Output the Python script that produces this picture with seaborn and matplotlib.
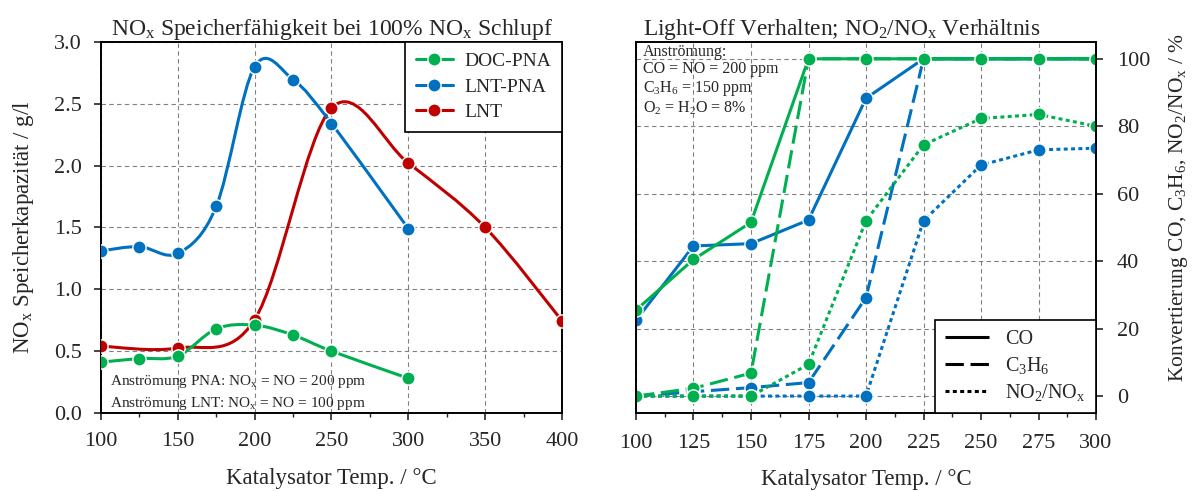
import numpy as np
import pandas as pd
import seaborn as sns
import matplotlib.pyplot as plt
from matplotlib.path import Path
from matplotlib.patches import PathPatch
from matplotlib.lines import Line2D
from matplotlib.ticker import MultipleLocator

# --- left panel: NOx storage capacity (g/l) ---
temp_doc = [100, 125, 150, 175, 200, 225, 250, 300]
cap_doc = [0.41, 0.44, 0.46, 0.68, 0.71, 0.63, 0.50, 0.28]
temp_lntpna = [100, 125, 150, 175, 200, 225, 250, 300]
cap_lntpna = [1.31, 1.345, 1.29, 1.67, 2.80, 2.695, 2.34, 1.49]
temp_lnt = [100, 150, 200, 250, 300, 350, 400]
cap_lnt = [0.54, 0.525, 0.755, 2.465, 2.02, 1.50, 0.745]

# --- right panel: light-off conversion (%) ---
temp_lo = [100, 125, 150, 175, 200, 225, 250, 275, 300]
doc_co = [25.5, 40.5, 51.5, 100, 100, 100, 100, 100, 100]
doc_c3h6 = [0, 2.3, 6.8, 100, 100, 100, 100, 100, 100]
doc_no2 = [0, 0, 0, 9.4, 52, 74.5, 82.3, 83.5, 80]
lnt_co = [22.5, 44.5, 45.2, 52.2, 88.3, 100, 100, 100, 100]
lnt_c3h6 = [0, 1.3, 2.5, 4.0, 29.2, 100, 100, 100, 100]
lnt_no2 = [0, 0, 0, 0, 0, 52, 68.5, 73, 73.5]

green = "#00B050"
blue = "#0070C0"
red = "#C00000"

sns.set_style("ticks")
plt.rcParams["font.family"] = ["Liberation Serif", "DejaVu Serif"]
plt.rcParams["mathtext.fontset"] = "custom"
plt.rcParams["mathtext.rm"] = "Liberation Serif"
plt.rcParams["mathtext.it"] = "Liberation Serif:italic"
plt.rcParams["axes.linewidth"] = 1.4

fig = plt.figure(figsize=(11.95, 4.91), dpi=100)
ax1 = fig.add_axes([0.0845, 0.159, 0.3858, 0.7556])
ax2 = fig.add_axes([0.5322, 0.159, 0.3850, 0.7556])


def smooth_path(x, y):
    # smoothed line through the points (Catmull-Rom as cubic Bezier)
    p = np.column_stack([x, y]).astype(float)
    ext = np.vstack([p[0], p, p[-1]])
    verts = [p[0]]
    codes = [Path.MOVETO]
    for i in range(len(p) - 1):
        p0, p1, p2, p3 = ext[i], ext[i + 1], ext[i + 2], ext[i + 3]
        verts += [p1 + (p2 - p0) / 6, p2 - (p3 - p1) / 6, p2]
        codes += [Path.CURVE4] * 3
    return Path(verts, codes)


ms = 9.5
left_series = [
    ("LNT", temp_lnt, cap_lnt, red),
    ("LNT-PNA", temp_lntpna, cap_lntpna, blue),
    ("DOC-PNA", temp_doc, cap_doc, green),
]
for name, xs, ys, col in left_series:
    ax1.add_patch(PathPatch(smooth_path(xs, ys), fill=False, edgecolor=col,
                            lw=2.2, zorder=3, capstyle="round"))
for name, xs, ys, col in left_series:
    sns.scatterplot(x=xs, y=ys, ax=ax1, color=col, s=ms ** 2, edgecolor="white",
                    linewidth=1, zorder=4, legend=False)

ax1.set_xlim(100, 400)
ax1.set_ylim(0, 3)
ax1.xaxis.set_major_locator(MultipleLocator(50))
ax1.xaxis.set_minor_locator(MultipleLocator(25))
ax1.yaxis.set_major_locator(MultipleLocator(0.5))
ax1.yaxis.set_major_formatter(plt.FormatStrFormatter("%.1f"))
ax1.grid(True, which="major", ls=(0, (4, 3)), color="#808080", lw=0.8)
ax1.tick_params(which="major", direction="out", length=5, width=1.2, labelsize=16, pad=9)
ax1.tick_params(which="minor", direction="out", length=3, width=1.0)
ax1.set_xlabel("Katalysator Temp. / °C", fontsize=16.5, labelpad=12)
ax1.set_ylabel(r"NO$_\mathrm{x}$ Speicherkapazität / g/l", fontsize=16.5, labelpad=13)
ax1.set_title(r"NO$_\mathrm{x}$ Speicherfähigkeit bei 100% NO$_\mathrm{x}$ Schlupf",
              fontsize=17, pad=4)
for s in ax1.spines.values():
    s.set_color("black")

handles = [Line2D([], [], color=c, lw=2.2, marker="o", markersize=ms,
                  markeredgecolor="white", markeredgewidth=1)
           for c in (green, blue, red)]
leg = ax1.legend(handles, ["DOC-PNA", "LNT-PNA", "LNT"], loc="upper right",
                 fontsize=14, frameon=True, fancybox=False, framealpha=1,
                 edgecolor="black", borderaxespad=0, handlelength=1.9,
                 handletextpad=0.6, borderpad=0.55, labelspacing=0.4)
leg.get_frame().set_linewidth(1.2)
ax1.text(0.02, 0.075, r"Anströmung PNA: NO$_\mathrm{x}$ = NO = 200 ppm",
         transform=ax1.transAxes, fontsize=11)
ax1.text(0.02, 0.015, r"Anströmung LNT: NO$_\mathrm{x}$ = NO = 100 ppm",
         transform=ax1.transAxes, fontsize=11)

# right panel in long form
rows = []
for cat, series in [("LNT-PNA", [("CO", lnt_co), ("C3H6", lnt_c3h6), ("NO2", lnt_no2)]),
                    ("DOC-PNA", [("CO", doc_co), ("C3H6", doc_c3h6), ("NO2", doc_no2)])]:
    for spec, vals in series:
        for t, v in zip(temp_lo, vals):
            rows.append({"Kat": cat, "Spezies": spec, "T": t, "Umsatz": v})
df = pd.DataFrame(rows)

dash_map = {"CO": (1, 0), "C3H6": (6, 2.2), "NO2": (1.3, 1.1)}
for cat, col in [("LNT-PNA", blue), ("DOC-PNA", green)]:
    for spec in ["CO", "C3H6", "NO2"]:
        sub = df[(df.Kat == cat) & (df.Spezies == spec)]
        sns.lineplot(data=sub, x="T", y="Umsatz", ax=ax2, color=col, lw=2.2,
                     marker="o", markersize=ms, markeredgecolor="white",
                     markeredgewidth=1, dashes=dash_map[spec], legend=False)

ax2.set_xlim(100, 300)
ax2.set_ylim(-5, 105)
ax2.xaxis.set_major_locator(MultipleLocator(25))
ax2.xaxis.set_minor_locator(MultipleLocator(12.5))
ax2.yaxis.set_major_locator(MultipleLocator(20))
ax2.yaxis.tick_right()
ax2.yaxis.set_label_position("right")
ax2.grid(True, which="major", ls=(0, (4, 3)), color="#808080", lw=0.8)
ax2.tick_params(which="major", direction="out", length=5, width=1.2, labelsize=16, pad=10)
ax2.tick_params(which="minor", direction="out", length=3, width=1.0)
ax2.set_xlabel("Katalysator Temp. / °C", fontsize=16.5, labelpad=12)
ax2.set_ylabel(r"Konvertierung CO, C$_3$H$_6$, NO$_2$/NO$_\mathrm{x}$ / %", fontsize=15.5)
ax2.yaxis.set_label_coords(1.155, 0.553)
ax2.set_title(r"Light-Off Verhalten; NO$_2$/NO$_\mathrm{x}$ Verhältnis",
              fontsize=16.8, loc="left", x=0.015, pad=4)
for s in ax2.spines.values():
    s.set_color("black")

handles2 = [Line2D([], [], color="black", lw=2.2, dashes=dash_map[k])
            for k in ["CO", "C3H6", "NO2"]]
leg2 = ax2.legend(handles2, ["CO", r"C$_3$H$_6$", r"NO$_2$/NO$_\mathrm{x}$"],
                  loc="lower right", fontsize=14.5, frameon=True, fancybox=False,
                  framealpha=1, edgecolor="black", borderaxespad=0,
                  handlelength=2.2, handletextpad=0.8, borderpad=0.5,
                  labelspacing=0.3)
leg2.get_frame().set_linewidth(1.2)
ax2.text(0.015, 0.995, "Anströmung:\nCO = NO = 200 ppm\nC$_3$H$_6$ = 150 ppm\n"
         "O$_2$ = H$_2$O = 8%", transform=ax2.transAxes, fontsize=11.5,
         va="top", ha="left", linespacing=1.12)

fig.savefig("out.png", dpi=100)
